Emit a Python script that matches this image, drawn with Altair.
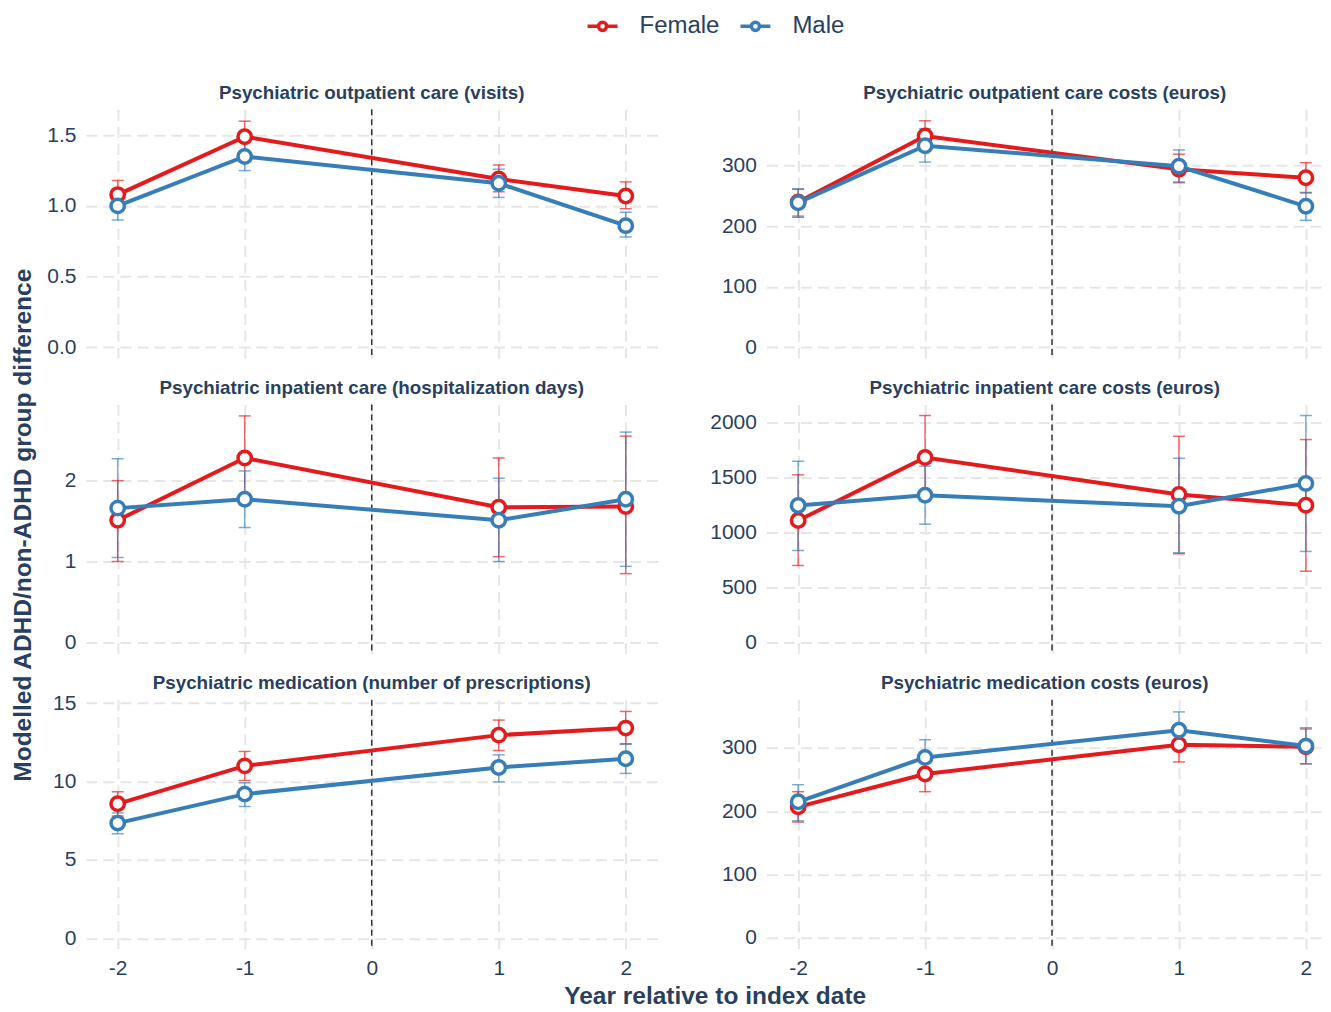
import altair as alt
import pandas as pd

FONT = "Liberation Sans"
TXT = "#2a3f5f"

years = [-2, -1, 1, 2]
sexes = ["Female", "Male"]
colors = ["#e41a1c", "#377eb8"]

panel_titles = [
    "Psychiatric outpatient care (visits)",
    "Psychiatric outpatient care costs (euros)",
    "Psychiatric inpatient care (hospitalization days)",
    "Psychiatric inpatient care costs (euros)",
    "Psychiatric medication (number of prescriptions)",
    "Psychiatric medication costs (euros)",
]

# estimates and 95% CI bounds, one list per panel, values at years -2, -1, 1, 2
female_est = [
    [1.08, 1.49, 1.19, 1.07],
    [240, 349, 294, 280],
    [1.51, 2.28, 1.67, 1.68],
    [1109, 1684, 1346, 1249],
    [8.58, 11.0, 12.96, 13.41],
    [207, 259, 305, 302],
]
female_lo = [
    [0.98, 1.38, 1.10, 0.98],
    [215, 324, 272, 255],
    [1.00, 1.76, 1.06, 0.85],
    [699, 1301, 806, 647],
    [7.80, 10.07, 11.98, 12.41],
    [183, 231, 278, 275],
]
female_hi = [
    [1.18, 1.60, 1.29, 1.17],
    [261, 374, 319, 305],
    [2.00, 2.80, 2.28, 2.55],
    [1526, 2067, 1878, 1848],
    [9.35, 11.92, 13.92, 14.47],
    [231, 285, 333, 330],
]
male_est = [
    [1.00, 1.35, 1.16, 0.86],
    [239, 333, 299, 233],
    [1.66, 1.77, 1.51, 1.77],
    [1246, 1340, 1240, 1447],
    [7.35, 9.20, 10.90, 11.45],
    [215, 285, 328, 303],
]
male_lo = [
    [0.90, 1.25, 1.06, 0.78],
    [217, 306, 273, 210],
    [1.05, 1.42, 1.00, 0.94],
    [836, 1076, 815, 827],
    [6.67, 8.41, 9.98, 10.52],
    [185, 257, 299, 275],
]
male_hi = [
    [1.10, 1.45, 1.26, 0.955],
    [262, 361, 326, 256],
    [2.27, 2.12, 2.03, 2.60],
    [1650, 1605, 1677, 2067],
    [8.00, 9.92, 11.70, 12.37],
    [242, 313, 357, 332],
]

y_domains = [[-0.085, 1.684], [-19, 393], [-0.148, 2.94], [-112, 2167], [-0.72, 15.21], [-18.5, 376]]
y_ticks = [[0, 0.5, 1, 1.5], [0, 100, 200, 300], [0, 1, 2], [0, 500, 1000, 1500, 2000], [0, 5, 10, 15], [0, 100, 200, 300]]
y_formats = [".1f", "d", "d", "d", "d", "d"]
x_ticks = [-2, -1, 0, 1, 2]
index_year = [0]

SYMBOL = ("M-1,0H-0.27 M0.27,0H1 "
          "M-0.27,0A0.27,0.27 0 1,1 0.27,0A0.27,0.27 0 1,1 -0.27,0")

legend = alt.Legend(
    title=None, orient="none", legendX=500, legendY=-100, direction="horizontal",
    symbolType=SYMBOL, symbolSize=900, symbolStrokeWidth=3.5, symbolFillColor="white",
    symbolOpacity=1, labelFontSize=24, labelColor=TXT, labelFont=FONT,
    labelOffset=20, columnPadding=13,
)
color = alt.Color("sex:N", scale=alt.Scale(domain=sexes, range=colors), legend=legend)

GRID = dict(grid=True, gridColor="#e6e6e6", gridWidth=2, gridDash=[11, 6])


def make_panel(k):
    col = k % 2
    bottom = k >= 4
    rows = []
    for s, est, lo, hi in [("Female", female_est, female_lo, female_hi),
                           ("Male", male_est, male_lo, male_hi)]:
        for j, yr in enumerate(years):
            rows.append({"year": yr, "sex": s, "est": est[k][j], "lo": lo[k][j], "hi": hi[k][j]})
    df = pd.DataFrame(rows)
    zero_df = pd.DataFrame({"year": index_year})

    width = 572 if col == 0 else 557
    xdom = [-2.25, 2.25] if col == 0 else [-2.25, 2.135]
    ext = 42 if col == 0 else 58

    if bottom:
        xaxis = alt.Axis(values=x_ticks, title=None, labels=True, ticks=False, domain=False,
                         labelFontSize=21, labelColor=TXT, labelFont=FONT, labelPadding=8,
                         labelExpr="datum.value + ''", **GRID)
    else:
        xaxis = alt.Axis(values=x_ticks, title=None, labels=False, ticks=False, domain=False,
                         minExtent=0, maxExtent=0, **GRID)
    x = alt.X("year:Q", scale=alt.Scale(domain=xdom, nice=False, zero=False), axis=xaxis)
    yscale = alt.Scale(domain=y_domains[k], nice=False, zero=False)
    yaxis = alt.Axis(values=y_ticks[k], format=y_formats[k], title=None, ticks=False, domain=False,
                     labelFontSize=21, labelColor=TXT, labelFont=FONT, labelPadding=10,
                     minExtent=ext, maxExtent=ext, **GRID)

    base = alt.Chart(df)
    vline = alt.Chart(zero_df).mark_rule(color="#333333", strokeWidth=1.5, strokeDash=[6, 4]).encode(x=x)
    err = base.mark_rule(strokeWidth=1.5, opacity=0.65).encode(
        x=x, y=alt.Y("lo:Q", scale=yscale, axis=yaxis), y2="hi:Q", color=color)
    cap_lo = base.mark_rule(strokeWidth=1.5, opacity=0.65, xOffset=-6, x2Offset=6).encode(
        x=x, x2="year:Q", y=alt.Y("lo:Q", scale=yscale, axis=yaxis), color=color)
    cap_hi = base.mark_rule(strokeWidth=1.5, opacity=0.65, xOffset=-6, x2Offset=6).encode(
        x=x, x2="year:Q", y=alt.Y("hi:Q", scale=yscale, axis=yaxis), color=color)
    line = base.mark_line(strokeWidth=4).encode(
        x=x, y=alt.Y("est:Q", scale=yscale, axis=yaxis), color=color, detail="sex:N")
    pts = base.mark_point(shape="circle", filled=False, fill="white", fillOpacity=1, opacity=1,
                          size=180, strokeWidth=3.5).encode(
        x=x, y=alt.Y("est:Q", scale=yscale, axis=yaxis), color=color)

    title_dy = 7 if k == 4 else 0
    return alt.layer(vline, err, cap_lo, cap_hi, line, pts).properties(
        width=width, height=250,
        title=alt.TitleParams(panel_titles[k], fontSize=18.8, fontWeight="bold", color=TXT,
                              font=FONT, offset=6, anchor="middle", frame="group", dy=title_dy),
    )


panels = [make_panel(k) for k in range(6)]

grid = alt.concat(*panels, columns=2, spacing=alt.RowColnumber(row=18.5, column=51)).resolve_scale(
    x="independent", y="independent", color="shared"
).properties(
    title=alt.TitleParams("Modelled ADHD/non-ADHD group difference", orient="left", anchor="middle",
                          fontSize=24.5, fontWeight="bold", color=TXT, font=FONT, offset=7, dx=6)
)

chart = alt.vconcat(grid).properties(
    title=alt.TitleParams("Year relative to index date", orient="bottom", anchor="middle",
                          fontSize=24.5, fontWeight="bold", color=TXT, font=FONT, offset=6, dx=48),
    padding={"left": 3, "top": 1, "right": 0, "bottom": 0},
).configure(background="white").configure_view(strokeWidth=0, stroke="transparent")

chart.save("out.html", embed_options={"renderer": "svg", "actions": False})
